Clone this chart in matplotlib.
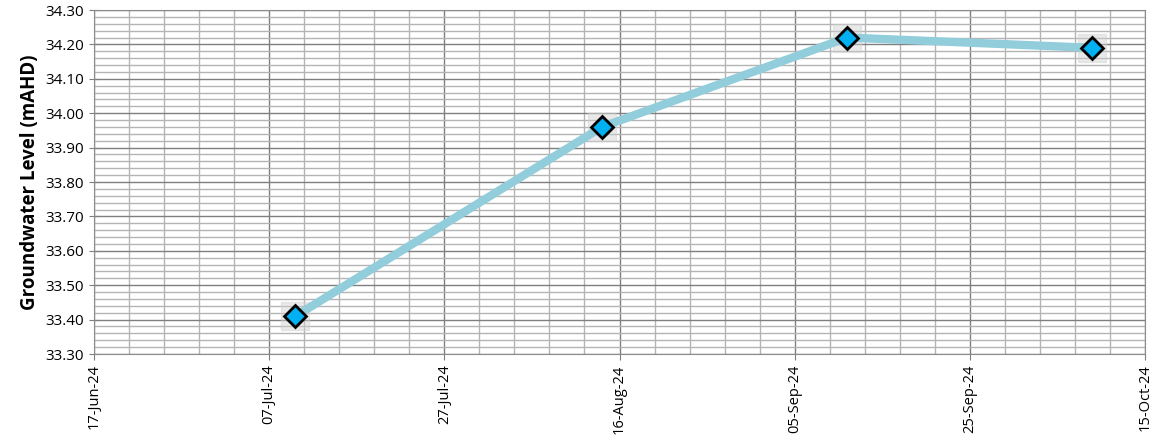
import matplotlib
matplotlib.use("Agg")
import matplotlib.pyplot as plt
import matplotlib.dates as mdates
import matplotlib.ticker as mticker
import numpy as np
import datetime as dt

dates = ["2024-07-10", "2024-08-14", "2024-09-11", "2024-10-09"]
levels = [33.41, 33.96, 34.22, 34.19]
x_start = "2024-06-17"
x_end = "2024-10-15"
y_min, y_max = 33.30, 34.30

plt.rcParams['font.family'] = ['Open Sans', 'DejaVu Sans']

d = [dt.datetime.strptime(s, "%Y-%m-%d") for s in dates]
fig = plt.figure(figsize=(11.54, 4.43), dpi=100)
ax = fig.add_axes([0.0815, 0.2009, 0.9107, 0.7765])

x0 = dt.datetime.strptime(x_start, "%Y-%m-%d")
x1 = dt.datetime.strptime(x_end, "%Y-%m-%d")
ax.set_xlim(x0, x1)
ax.set_ylim(y_min, y_max)

major = [mdates.date2num(x0) + 20 * i for i in range(7)]
minor = [mdates.date2num(x0) + 4 * i for i in range(31)]
ax.set_xticks(major)
ax.set_xticks(minor, minor=True)
ax.xaxis.set_major_formatter(mdates.DateFormatter("%d-%b-%y"))
ax.set_yticks(np.round(np.arange(33.30, 34.301, 0.10), 2))
ax.set_yticks(np.round(np.arange(33.30, 34.301, 0.02), 2), minor=True)
ax.yaxis.set_major_formatter(mticker.FormatStrFormatter("%.2f"))

ax.grid(which='minor', color='#b4b4b4', linewidth=1.0)
ax.grid(which='major', color='#7f7f7f', linewidth=1.0)
ax.set_axisbelow(True)

for lbl in ax.get_xticklabels():
    lbl.set_rotation(90)
ax.tick_params(axis='y', which='major', labelsize=11, length=7, color='#7f7f7f', direction='inout')
ax.tick_params(axis='x', which='major', labelsize=10.5, length=4, color='#7f7f7f', direction='out')
ax.tick_params(axis='both', which='minor', length=0)
for s in ax.spines.values():
    s.set_color('#8c8c8c')

ax.set_ylabel("Groundwater Level (mAHD)", fontsize=13.5, fontweight='bold', labelpad=4)

# marker shadow
ax.plot(d, levels, linestyle='none', marker='s', markersize=20, color='#d0d0d0', alpha=0.45, zorder=2)
ax.plot(d, levels, color='#92CDDC', linewidth=6, zorder=3, solid_capstyle='round')
ax.plot(d, levels, linestyle='none', marker='D', markersize=11, markerfacecolor='#00B0F0',
        markeredgecolor='black', markeredgewidth=2, zorder=4)

fig.savefig("out.png", dpi=100)
